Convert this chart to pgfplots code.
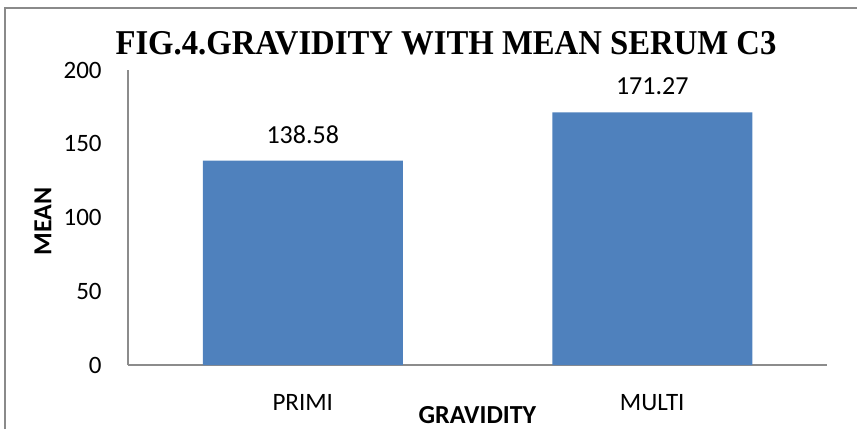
\documentclass[border=0pt]{standalone}
\usepackage{pgfplots}
\pgfplotsset{compat=1.18}
\usepackage{fontspec}
\setmainfont{Carlito}
\newfontfamily\titlefont{Liberation Serif}
\definecolor{barblue}{HTML}{4F81BD}
\definecolor{axgray}{HTML}{8C8C8C}
\definecolor{framegray}{HTML}{8A8A8A}
\begin{document}
\begin{tikzpicture}
\useasboundingbox (0,0) rectangle (428.5pt,214.5pt);
\draw[framegray, line width=0.75pt] (2.5pt,0) -- (2.5pt,210.5pt) -- (428.5pt,210.5pt);
\begin{axis}[
  at={(64pt,32pt)}, anchor=south west,
  width=349.5pt, height=147.5pt, scale only axis,
  xmin=-0.5, xmax=1.5, ymin=0, ymax=200,
  axis x line*=bottom, axis y line*=left,
  axis line style={axgray, line width=0.75pt, -},
  xtick={0,1}, xticklabels={PRIMI,MULTI},
  ytick={0,50,100,150,200},
  major tick length=0pt,
  /pgf/number format/assume math mode=true,
  tick label style={font=\fontsize{12.5}{14}\selectfont, inner sep=0pt},
  yticklabel style={anchor=east, xshift=-13pt},
  xticklabel style={anchor=north, yshift=-14.5pt},
  xlabel={\textbf{GRAVIDITY}},
  xlabel style={at={(axis description cs:0.5,0)}, anchor=center, yshift=-25pt, font=\fontsize{13}{15}\selectfont},
  ylabel={\textbf{MEAN}},
  ylabel style={at={(axis description cs:-0.1216,0.486)}, anchor=center, font=\fontsize{13}{15}\selectfont},
  ybar, bar width=100pt,
  nodes near coords={\pgfmathprintnumber[fixed, fixed zerofill, precision=2, assume math mode=true]{\pgfplotspointmeta}},
  nodes near coords style={font=\fontsize{13}{15}\selectfont, inner sep=0pt, anchor=south, yshift=8.4pt, text=black},
]
\addplot[fill=barblue, draw=none] coordinates {(0,138.58) (1,171.27)};
\end{axis}
\node at (223pt,193pt) {\scalebox{0.94}[1]{\titlefont\fontsize{17.4}{20}\selectfont\bfseries FIG.4.GRAVIDITY WITH MEAN SERUM C3}};
\end{tikzpicture}
\end{document}
